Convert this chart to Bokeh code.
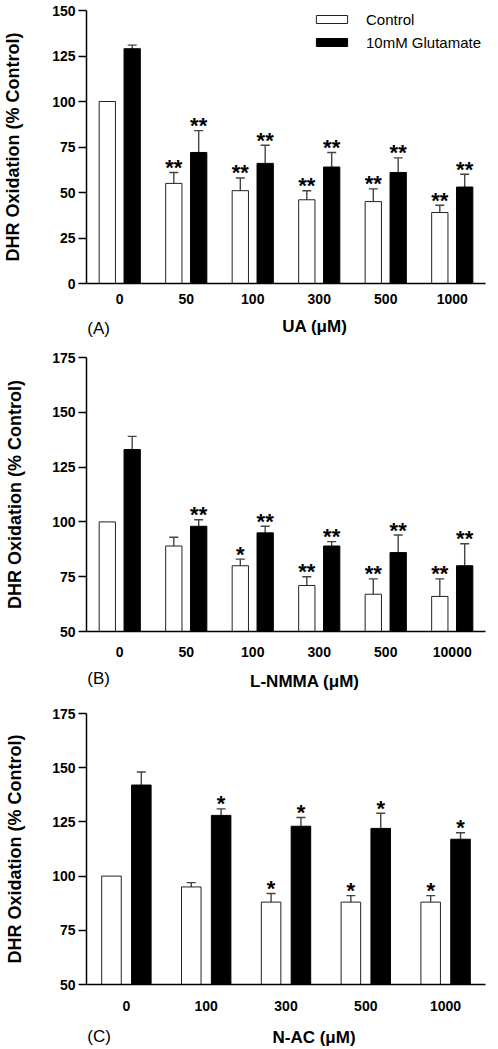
from bokeh.plotting import figure
from bokeh.models import (ColumnDataSource, FactorRange, Range1d, FixedTicker,
                          Whisker, TeeHead, Label, Legend, LegendItem)
from bokeh.transform import dodge
from bokeh.layouts import column
from bokeh.embed import file_html
from bokeh.resources import INLINE
from bokeh.core.properties import value

# ---------------- data ----------------
# Panel A: UA
a_cats = ["0", "50", "100", "300", "500", "1000"]
a_ctrl = [100, 55, 51, 46, 45, 39]
a_ctrl_err = [0, 6, 7, 5, 7, 4]
a_glu = [129, 72, 66, 64, 61, 53]
a_glu_err = [2, 12, 10, 8, 8, 7]
a_ctrl_sig = ["", "**", "**", "**", "**", "**"]
a_glu_sig = ["", "**", "**", "**", "**", "**"]
a_yticks = [0, 25, 50, 75, 100, 125, 150]

# Panel B: L-NMMA
b_cats = ["0", "50", "100", "300", "500", "10000"]
b_ctrl = [100, 89, 80, 71, 67, 66]
b_ctrl_err = [0, 4, 3, 4, 7, 8]
b_glu = [133, 98, 95, 89, 86, 80]
b_glu_err = [6, 3, 3, 2, 8, 10]
b_ctrl_sig = ["", "", "*", "**", "**", "**"]
b_glu_sig = ["", "**", "**", "**", "**", "**"]
b_yticks = [50, 75, 100, 125, 150, 175]

# Panel C: N-AC
c_cats = ["0", "100", "300", "500", "1000"]
c_ctrl = [100, 95, 88, 88, 88]
c_ctrl_err = [0, 2, 4, 3, 3]
c_glu = [142, 128, 123, 122, 117]
c_glu_err = [6, 3, 4, 7, 3]
c_ctrl_sig = ["", "", "*", "*", "*"]
c_glu_sig = ["", "*", "*", "*", "*"]
c_yticks = [50, 75, 100, 125, 150, 175]

series_names = ["Control", "10mM Glutamate"]
y_title = "DHR Oxidation (% Control)"

FONT = "Liberation Sans"
W = 498
OFF = 0.187
BW = 0.245
ERR_COLOR = "#444444"


def panel(cats, ctrl, ctrl_err, glu, glu_err, ctrl_sig, glu_sig, yticks,
          height, bl, br, bt, bb, tick_so, ylab_so, legend=False):
    ymin, ymax = yticks[0], yticks[-1]
    p = figure(x_range=FactorRange(*cats), y_range=Range1d(ymin, ymax),
               width=W, height=height, output_backend="svg",
               toolbar_location=None, min_border_left=bl,
               min_border_right=br, min_border_top=bt, min_border_bottom=bb)
    p.x_range.range_padding = 0

    src = ColumnDataSource(dict(cat=cats, ctrl=ctrl, glu=glu,
                                ctrl_top=[v + e for v, e in zip(ctrl, ctrl_err)],
                                glu_top=[v + e for v, e in zip(glu, glu_err)],
                                ctrl_sig=ctrl_sig, glu_sig=glu_sig))
    r1 = p.vbar(x=dodge("cat", -OFF, range=p.x_range), top="ctrl", bottom=ymin,
                width=BW, fill_color="white", line_color="#222222",
                line_width=1, source=src)
    r2 = p.vbar(x=dodge("cat", OFF, range=p.x_range), top="glu", bottom=ymin,
                width=BW, fill_color="black", line_color="black",
                line_width=1, source=src)

    for vals, errs, off in ((ctrl, ctrl_err, -OFF), (glu, glu_err, OFF)):
        idx = [i for i, e in enumerate(errs) if e > 0]
        wsrc = ColumnDataSource(dict(cat=[cats[i] for i in idx],
                                     lower=[vals[i] for i in idx],
                                     upper=[vals[i] + errs[i] for i in idx]))
        w = Whisker(base=dodge("cat", off, range=p.x_range), lower="lower",
                    upper="upper", source=wsrc, dimension="height",
                    line_color=ERR_COLOR, line_width=1.4,
                    upper_head=TeeHead(size=9, line_color=ERR_COLOR, line_width=1.4),
                    lower_head=None)
        p.add_layout(w)

    for top, sig, off in (("ctrl_top", "ctrl_sig", -OFF), ("glu_top", "glu_sig", OFF)):
        p.text(x=dodge("cat", off, range=p.x_range), y=top, text=sig, source=src,
               text_align="center", text_baseline="alphabetic", y_offset=-5,
               text_font=value(FONT), text_font_style="bold",
               text_font_size="22px", text_color="black")

    p.xgrid.visible = False
    p.ygrid.visible = False
    p.outline_line_color = None

    p.yaxis.ticker = FixedTicker(ticks=yticks)
    p.yaxis.major_tick_out = 8
    p.yaxis.major_tick_in = 0
    p.yaxis.minor_tick_out = 0
    p.yaxis.minor_tick_in = 0
    p.yaxis.major_label_standoff = 3
    for ax in (p.xaxis, p.yaxis):
        ax.axis_line_width = 1.5
        ax.axis_line_color = "black"
        ax.major_tick_line_width = 1.5
        ax.major_tick_line_color = "black"
        ax.major_label_text_font = FONT
        ax.major_label_text_font_style = "bold"
        ax.major_label_text_font_size = "14px"
        ax.major_label_text_color = "black"
    p.xaxis.major_tick_out = 0
    p.xaxis.major_tick_in = 0
    p.xaxis.major_label_standoff = tick_so

    p.yaxis.axis_label = y_title
    p.yaxis.axis_label_standoff = ylab_so
    p.yaxis.axis_label_text_font = FONT
    p.yaxis.axis_label_text_font_style = "bold"
    p.yaxis.axis_label_text_font_size = "18px"
    p.yaxis.axis_label_text_color = "black"

    if legend:
        lg = Legend(items=[LegendItem(label=series_names[0], renderers=[r1]),
                           LegendItem(label=series_names[1], renderers=[r2])],
                    location=(226, 232), glyph_width=39, glyph_height=10,
                    label_standoff=15, label_height=18, spacing=5, padding=0,
                    margin=0, border_line_color=None, background_fill_alpha=0,
                    label_text_font=FONT, label_text_font_size="15px",
                    label_text_color="black")
        p.add_layout(lg)
    return p


def strip(height, xlabel, xlabel_cx, xlabel_y, tag, tag_y):
    # caption row under a panel: x-axis title and the panel tag on one line
    s = figure(width=W, height=height, x_range=Range1d(0, W),
               y_range=Range1d(0, height), output_backend="svg",
               toolbar_location=None, x_axis_location=None,
               y_axis_location=None, min_border=0)
    s.grid.visible = False
    s.outline_line_color = None
    s.add_layout(Label(x=xlabel_cx, y=xlabel_y, text=xlabel, text_align="center",
                       text_baseline="middle", text_font=FONT,
                       text_font_style="bold", text_font_size="17px",
                       text_color="black"))
    s.add_layout(Label(x=1, y=tag_y, text=tag, text_align="left",
                       text_baseline="middle", text_font=FONT,
                       text_font_size="17px", text_color="black"))
    return s


pa = panel(a_cats, a_ctrl, a_ctrl_err, a_glu, a_glu_err, a_ctrl_sig, a_glu_sig,
           a_yticks, height=313, bl=82, br=9, bt=10, bb=30, tick_so=10,
           ylab_so=26, legend=True)
sa = strip(35, "UA (μM)", 285, 22, "(A)", 20.5)
pb = panel(b_cats, b_ctrl, b_ctrl_err, b_glu, b_glu_err, b_ctrl_sig, b_glu_sig,
           b_yticks, height=317, bl=80, br=9, bt=9, bb=34, tick_so=15,
           ylab_so=24)
sb = strip(35, "L-NMMA (μM)", 272.5, 19, "(B)", 22)
pc = panel(c_cats, c_ctrl, c_ctrl_err, c_glu, c_glu_err, c_ctrl_sig, c_glu_sig,
           c_yticks, height=320, bl=80, br=13, bt=13, bb=36, tick_so=16,
           ylab_so=24)
sc = strip(29, "N-AC (μM)", 284, 12.5, "(C)", 13.5)

layout = column(pa, sa, pb, sb, pc, sc, spacing=0)
open("out.html", "w").write(file_html(layout, INLINE))
